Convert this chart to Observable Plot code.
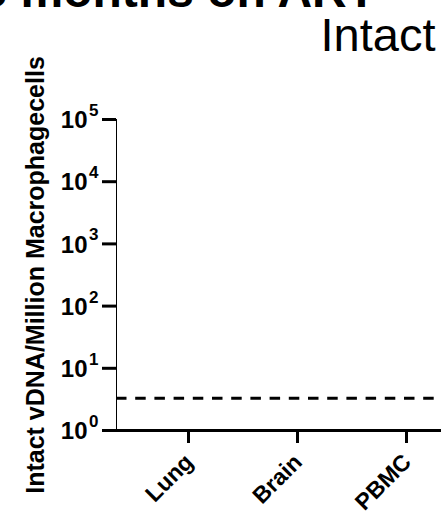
<!DOCTYPE html>
<html>
<head>
<meta charset="utf-8">
<script src="https://cdn.jsdelivr.net/npm/d3@7"></script>
<script src="https://cdn.jsdelivr.net/npm/@observablehq/plot@0.6"></script>
<style>
  html, body { margin: 0; padding: 0; background: #fff; }
  #chart svg { display: block; }
  #chart svg [aria-label^="y-axis"] line,
  #chart svg [aria-label^="y-axis"] path,
  #chart svg [aria-label^="x-axis"] line,
  #chart svg [aria-label^="x-axis"] path { stroke-width: 3px; stroke: #000; }
</style>
</head>
<body>
<div id="chart"></div>
<script>
// Tissue compartments on the x axis
const categories = ["Lung", "Brain", "PBMC"];
// Log-scale y ticks and their labels (base and superscript exponent)
const yTicks = [1, 10, 100, 1000, 10000, 100000];
const tickBase = "10";
const tickExponents = ["0", "1", "2", "3", "4", "5"];
// Limit of detection (dashed reference line)
const limitOfDetection = [3.3];
// Text
const panelTitle = "Intact";
const studyTitle = "6 months on ART";
const yLabel = "Intact vDNA/Million Macrophagecells";

const font = "'Liberation Sans', Arial, Helvetica, sans-serif";
const ink = "#000";

const tickRows = yTicks.map((v, i) => ({v, base: tickBase, exp: tickExponents[i]}));

const chart = Plot.plot({
  width: 441,
  height: 516,
  marginLeft: 116,
  marginRight: 0,
  marginTop: 119,
  marginBottom: 86,
  style: {fontFamily: font, color: ink, background: "#fff", overflow: "hidden"},
  x: {type: "point", domain: categories, range: [188, 406], padding: 0, axis: "bottom",
      tickSize: 13, tickFormat: () => "", label: null},
  y: {type: "log", domain: [1, 100000], axis: "left", ticks: yTicks, line: true,
      tickSize: 14, tickFormat: () => "", label: null},
  marks: [
    // x axis line along the bottom of the frame
    Plot.ruleY([1], {stroke: ink, strokeWidth: 3}),
    // limit of detection
    Plot.ruleY(limitOfDetection, {stroke: ink, strokeWidth: 3, strokeDasharray: "10.5,8.7"}),
    // y tick labels: "10" with superscript exponent
    Plot.text(tickRows, {y: "v", text: "base", frameAnchor: "left", textAnchor: "end",
      dx: -29, dy: 1, fontSize: 24, fontWeight: "bold", fill: ink}),
    Plot.text(tickRows, {y: "v", text: "exp", frameAnchor: "left", textAnchor: "end",
      dx: -18, dy: -9, fontSize: 17, fontWeight: "bold", fill: ink}),
    // x tick labels, rotated
    Plot.text(categories, {x: d => d, text: d => d, frameAnchor: "bottom", rotate: -45,
      textAnchor: "end", lineAnchor: "bottom", dx: 6, dy: 33, fontSize: 23, fontWeight: "bold", fill: ink}),
    // y axis title
    Plot.text([yLabel], {frameAnchor: "left", text: d => d, rotate: -90, lineAnchor: "bottom",
      textAnchor: "middle", dx: -73, dy: 0, fontSize: 25, fontWeight: "bold", fill: ink}),
    // panel title
    Plot.text([panelTitle], {frameAnchor: "top-right", text: d => d, textAnchor: "end",
      lineAnchor: "bottom", dx: -6, dy: -69, fontSize: 47, fill: ink}),
    // study title (runs off the top edge)
    Plot.text([studyTitle], {frameAnchor: "top-left", text: d => d, textAnchor: "start",
      lineAnchor: "bottom", dx: -136, dy: -113, fontSize: 48, fontWeight: "bold", fill: ink})
  ]
});

document.getElementById("chart").appendChild(chart);
</script>
</body>
</html>
